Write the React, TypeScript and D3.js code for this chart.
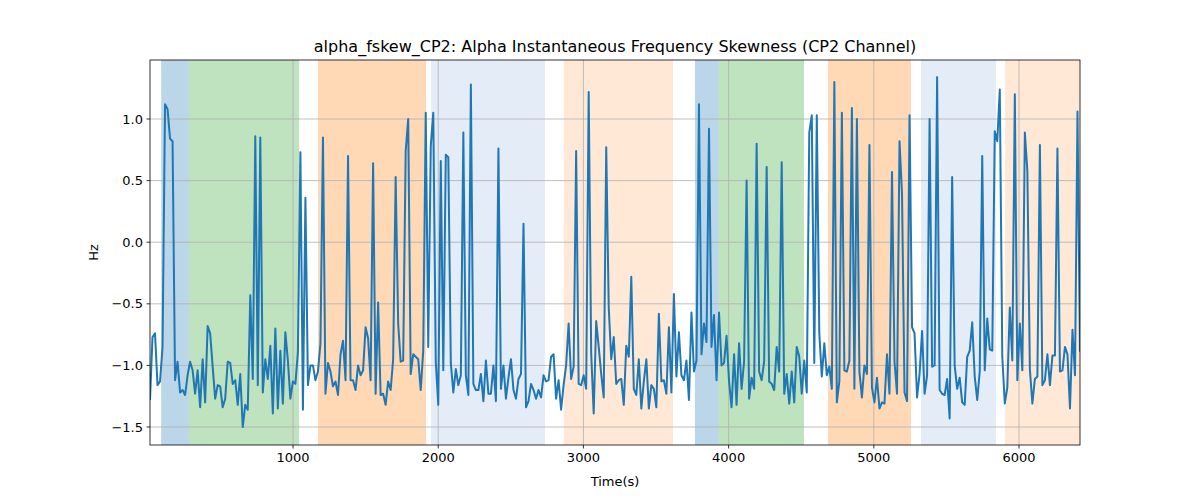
import React from 'react'
import * as d3 from 'd3'

const values: number[] = [
  -1.28, -0.77, -0.74, -1.16, -1.13, -0.85, 1.12, 1.08, 0.84, 0.82, -1.12, -0.97, -1.22, -1.2, -1.24, -1.08, -0.97, -1.04, -1.23, -1.04,
  -1.34, -0.95, -1.3, -0.68, -0.74, -1.01, -1.27, -1.16, -1.17, -1.34, -1.27, -0.97, -0.98, -1.15, -1.12, -1.32, -1.07, -1.5, -1.32, -1.36,
  -0.43, -1.11, 0.86, -1.16, 0.85, -1.22, -0.95, -1.11, -0.84, -1.39, -0.7, -1.35, -0.88, -1.31, -0.73, -0.96, -1.27, -1.13, -1.15, -0.89,
  0.73, -1.36, 0.36, -1.16, -1.0, -1.0, -1.12, -1.05, -0.82, 0.85, -1.23, -0.98, -1.05, -1.17, -1.13, -1.24, -0.91, -0.8, -1.12, 0.7,
  -1.12, -1.12, -1.2, -1.0, -1.08, -1.04, -0.69, -0.78, -1.12, 0.64, -1.23, -0.49, -1.24, -1.23, -1.32, -1.13, -1.2, -0.95, 0.53,
  -0.66, -0.97, -0.96, 0.74, 1.0, -1.07, -0.91, -0.93, -0.95, -1.2, -0.88, 1.05, -0.85, 0.78, 1.05, -0.97, -1.32, 0.66, -1.04, 0.71,
  0.69, -0.98, -1.22, -1.03, -1.16, -1.08, 0.89, -1.08, -1.24, 1.28, -1.15, -1.2, -1.2, -1.07, -1.29, -0.96, -1.23, -1.23, -1.0, -1.29,
  0.76, -1.19, -1.0, -1.27, -1.1, -0.95, -1.2, -1.27, -1.11, -1.07, 0.15, -1.34, -1.29, -1.15, -1.2, -1.27, -1.2, -1.26, -1.08, -1.13,
  -1.12, -0.93, -0.91, -1.27, -1.12, -1.36, -1.16, -1.0, -0.66, -1.11, -1.01, 0.74, -1.15, -1.16, -1.08, -1.19, 1.22, -0.9, -1.39, -0.64,
  -0.85, -1.07, -1.26, 0.77, -0.53, -0.95, -0.77, -1.15, -1.12, -1.11, -1.32, -0.84, -0.93, -0.28, -1.19, -1.24, -0.95, -1.35, -1.13,
  -0.95, -1.35, -1.16, -1.19, -1.34, -0.58, -1.13, -1.12, -1.23, -0.69, -1.22, -0.42, -1.09, -0.73, -1.08, -1.12, -0.96, -1.28, -0.57, -1.05,
  -0.96, 1.12, -0.91, -0.66, -0.81, 0.92, -0.85, -0.59, -1.12, -0.57, -1.0, -0.98, -0.76, -1.13, -1.34, -0.91, -1.32, -0.82, -1.19, -0.97,
  0.5, -1.27, -1.1, -1.19, 0.8, -1.05, -1.12, -0.97, 0.61, -1.13, -1.15, -1.2, -0.85, -1.05, 0.65, -1.23, -1.07, -1.31, -1.05, -1.3,
  -0.85, -0.93, -1.23, -0.96, -1.22, 0.89, 1.03, -0.98, 1.03, -0.74, -1.09, -0.82, -1.08, -1.01, -1.19, 1.3, -1.3, -1.13, 1.05, -1.04,
  -1.05, -0.96, 1.09, -1.19, 1.0, -1.05, -1.26, -1.0, -1.07, 0.79, -1.18, -1.3, -1.1, -1.35, -1.3, -1.31, -0.91, -1.23, 0.57, -0.97,
  -1.23, 0.82, 0.39, -1.22, -1.29, 1.03, -0.69, -0.74, -1.26, -1.07, -0.72, -1.23, -1.08, 1.0, -1.01, -1.0, 1.34, -1.2, -1.23, -1.24,
  -1.11, -1.43, 0.53, -1.0, -1.19, -1.1, -1.3, -1.32, -0.93, -0.88, -0.65, -1.09, -1.28, -1.05, 0.7, -1.04, -0.62, -0.87, -0.88, 0.9,
  0.82, 1.24, -0.93, -1.31, -1.18, -0.53, -0.96, 1.2, -1.12, -0.66, -1.04, 0.89, 0.58, -1.03, -1.31, -1.11, -1.09, 0.79, -1.16, -1.12,
  -0.91, -1.16, -0.92, -0.92, 0.76, -1.05, -1.04, -0.85, -0.91, -1.35, -0.71, -1.08, 1.06, -0.89,
]
const tStart = 15
const tEnd = 6420

const spanStarts = [92, 284, 1172, 1950, 2865, 3768, 3933, 4684, 5325, 5904]
const spanEnds = [284, 1042, 1916, 2735, 3617, 3933, 4519, 5256, 5842, 6420]
const spanColors = ['#1f77b4', '#2ca02c', '#ff7f0e', '#4a7dd0', '#ff7f0e', '#1f77b4', '#2ca02c', '#ff7f0e', '#4a7dd0', '#ff7f0e']
const spanAlphas = [0.3, 0.3, 0.3, 0.15, 0.17, 0.3, 0.3, 0.3, 0.15, 0.17]

const xTicks = [1000, 2000, 3000, 4000, 5000, 6000]
const yTicks = [-1.5, -1.0, -0.5, 0.0, 0.5, 1.0]

const W = 1200, H = 500
const L = 150, R = 1080, T = 60, B = 445

export default function App() {
  const x = d3.scaleLinear().domain([tStart, tEnd]).range([L, R])
  const y = d3.scaleLinear().domain([-1.646, 1.479]).range([B, T])
  const step = (tEnd - tStart) / (values.length - 1)
  const pts: [number, number][] = values.map((v, i) => [tStart + i * step, v])
  const line = d3.line<[number, number]>().x(d => x(d[0])).y(d => y(d[1]))
  const font = 'DejaVu Sans, sans-serif'
  return (
    <div style={{ position: 'fixed', left: 0, top: 0 }}>
      <svg width={W} height={H} style={{ display: 'block', background: '#fff' }} fontFamily={font}>
        {spanStarts.map((s, i) => (
          <rect key={i} x={x(s)} y={T} width={x(spanEnds[i]) - x(s)} height={B - T}
            fill={spanColors[i]} fillOpacity={spanAlphas[i]} />
        ))}
        {xTicks.map(t => <line key={t} x1={x(t)} x2={x(t)} y1={T} y2={B} stroke="#b0b0b0" strokeWidth={0.8} />)}
        {yTicks.map(t => <line key={t} x1={L} x2={R} y1={y(t)} y2={y(t)} stroke="#b0b0b0" strokeWidth={0.8} />)}
        <clipPath id="c"><rect x={L} y={T} width={R - L} height={B - T} /></clipPath>
        <path d={line(pts) || ''} fill="none" stroke="#1f77b4" strokeWidth={2} clipPath="url(#c)" strokeLinejoin="round" />
        <rect x={L} y={T} width={R - L} height={B - T} fill="none" stroke="#000" strokeWidth={0.8} />
        {xTicks.map(t => (
          <g key={t}>
            <line x1={x(t)} x2={x(t)} y1={B} y2={B + 3.5} stroke="#000" strokeWidth={0.8} />
            <text x={x(t)} y={B + 17} fontSize={13} textAnchor="middle">{t}</text>
          </g>
        ))}
        {yTicks.map(t => (
          <g key={t}>
            <line x1={L - 3.5} x2={L} y1={y(t)} y2={y(t)} stroke="#000" strokeWidth={0.8} />
            <text x={L - 7} y={y(t) + 4.5} fontSize={13} textAnchor="end">{t < 0 ? '\u2212' + Math.abs(t).toFixed(1) : t.toFixed(1)}</text>
          </g>
        ))}
        <text x={(L + R) / 2} y={486} fontSize={13} textAnchor="middle">Time(s)</text>
        <text transform={`translate(98,${(T + B) / 2}) rotate(-90)`} fontSize={13} textAnchor="middle">Hz</text>
        <text x={(L + R) / 2} y={52} fontSize={16} textAnchor="middle">alpha_fskew_CP2: Alpha Instantaneous Frequency Skewness (CP2 Channel)</text>
      </svg>
    </div>
  )
}
